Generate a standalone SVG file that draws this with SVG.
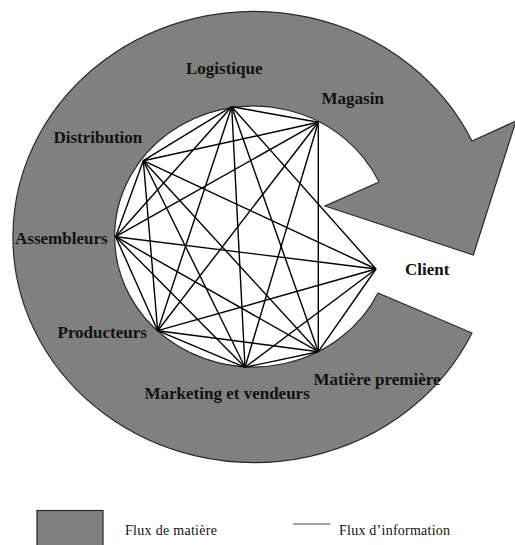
<svg xmlns="http://www.w3.org/2000/svg" width="515" height="545" viewBox="0 0 515 545">
<style>
.lbl{font-family:"Liberation Serif","Times New Roman",serif;font-weight:bold;font-size:17px;fill:#111}
.leg{font-family:"Liberation Serif","Times New Roman",serif;font-size:14px;fill:#111}
.ring{fill:#808080;stroke:#2a2a2a;stroke-width:1.2;stroke-linejoin:miter}
#connectors line{stroke:#000;stroke-width:1.4}
</style>
<rect width="515" height="545" fill="#fff"/>
<g id="material-flow">
<path class="ring" d="M472,333 A241,225.5 0 1 1 472,141 L516,121 L473.3,255 L325,206 L379,182 A138.5,130.5 0 1 0 378,293 Z"/>
</g>
<g id="connectors">
<line x1="231.7" y1="106.7" x2="318.3" y2="122.3"/>
<line x1="231.7" y1="106.7" x2="143.3" y2="160.7"/>
<line x1="231.7" y1="106.7" x2="115.7" y2="236.7"/>
<line x1="231.7" y1="106.7" x2="376" y2="269"/>
<line x1="231.7" y1="106.7" x2="157.7" y2="330.7"/>
<line x1="231.7" y1="106.7" x2="245" y2="367.3"/>
<line x1="231.7" y1="106.7" x2="318.3" y2="351.7"/>
<line x1="318.3" y1="122.3" x2="143.3" y2="160.7"/>
<line x1="318.3" y1="122.3" x2="115.7" y2="236.7"/>
<line x1="318.3" y1="122.3" x2="157.7" y2="330.7"/>
<line x1="318.3" y1="122.3" x2="245" y2="367.3"/>
<line x1="318.3" y1="122.3" x2="318.3" y2="351.7"/>
<line x1="143.3" y1="160.7" x2="115.7" y2="236.7"/>
<line x1="143.3" y1="160.7" x2="376" y2="269"/>
<line x1="143.3" y1="160.7" x2="157.7" y2="330.7"/>
<line x1="143.3" y1="160.7" x2="245" y2="367.3"/>
<line x1="143.3" y1="160.7" x2="318.3" y2="351.7"/>
<line x1="115.7" y1="236.7" x2="376" y2="269"/>
<line x1="115.7" y1="236.7" x2="157.7" y2="330.7"/>
<line x1="115.7" y1="236.7" x2="245" y2="367.3"/>
<line x1="115.7" y1="236.7" x2="318.3" y2="351.7"/>
<line x1="376" y1="269" x2="157.7" y2="330.7"/>
<line x1="376" y1="269" x2="245" y2="367.3"/>
<line x1="376" y1="269" x2="318.3" y2="351.7"/>
<line x1="157.7" y1="330.7" x2="245" y2="367.3"/>
<line x1="157.7" y1="330.7" x2="318.3" y2="351.7"/>
<line x1="245" y1="367.3" x2="318.3" y2="351.7"/>
</g>
<g id="node-logistique"><text class="lbl" x="186" y="74">Logistique</text></g>
<g id="node-magasin"><text class="lbl" x="321.5" y="104">Magasin</text></g>
<g id="node-distribution"><text class="lbl" x="53.5" y="142.5">Distribution</text></g>
<g id="node-assembleurs"><text class="lbl" x="15" y="244">Assembleurs</text></g>
<g id="node-client"><text class="lbl" x="405" y="275">Client</text></g>
<g id="node-producteurs"><text class="lbl" x="57.5" y="337.5">Producteurs</text></g>
<g id="node-marketing"><text class="lbl" x="144.5" y="399">Marketing et vendeurs</text></g>
<g id="node-matiere"><text class="lbl" x="313.5" y="385">Matière première</text></g>
<g id="legend">
<rect class="ring" x="37" y="510.5" width="66" height="45"/>
<text class="leg" x="125" y="535" textLength="92">Flux de matière</text>
<line x1="293" y1="524" x2="330" y2="524" stroke="#444" stroke-width="1.2"/>
<text class="leg" x="339" y="535" textLength="111">Flux d’information</text>
</g>
</svg>
